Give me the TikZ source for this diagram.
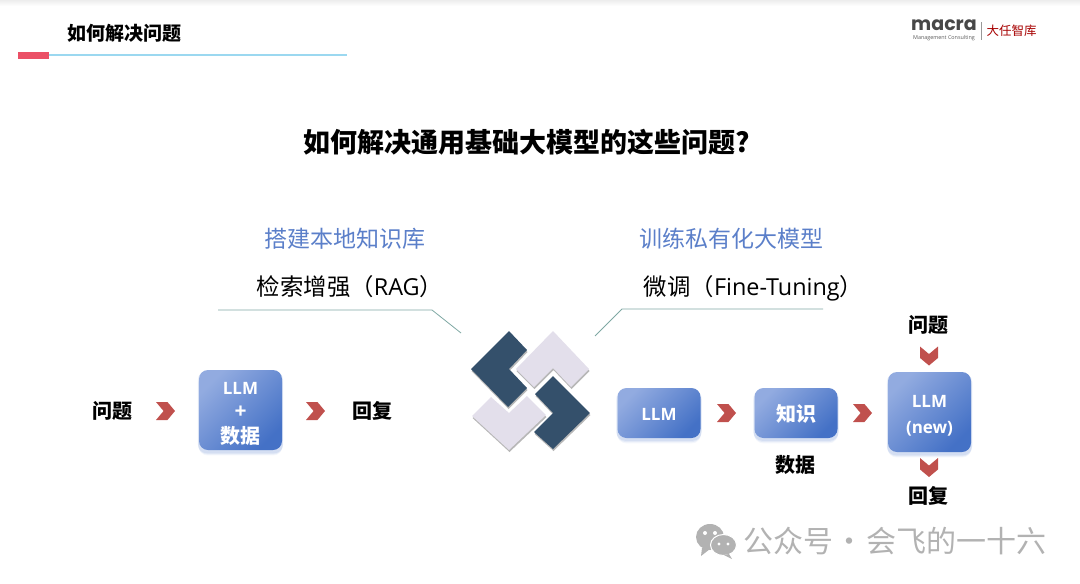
\documentclass[tikz,border=0pt]{standalone}
\usepackage{fontspec}
\setmainfont{Noto Sans CJK SC}
\newfontfamily\latn{Open Sans}
\newfontfamily\brandfont{Poppins}
\usetikzlibrary{shapes.symbols,positioning,shadows}
\definecolor{boxlight}{HTML}{92ABE0}
\definecolor{boxdark}{HTML}{4471C6}
\definecolor{chevred}{HTML}{C0504D}
\definecolor{headblue}{HTML}{5B7FC9}
\definecolor{slateblue}{HTML}{34506B}
\definecolor{palelilac}{HTML}{E3DFEB}
\definecolor{leadgreen}{HTML}{7FA8A3}
\definecolor{markgray}{HTML}{B2B2B2}
\definecolor{rulecyan}{HTML}{9BD8F0}
\definecolor{tabred}{HTML}{EB5066}
\newcommand{\boxlatin}{\fontsize{17}{24.5}\selectfont\latn}
\begin{document}
\begin{tikzpicture}[x=1pt,y=-1pt,
  llmbox/.style={rounded corners=9pt, minimum width=83pt, inner sep=0pt, align=center, text=white, font=\fontsize{20}{24.5}\selectfont\bfseries, top color=boxlight, bottom color=boxdark, shading angle=45,
    drop shadow={shadow xshift=0pt, shadow yshift=-5pt, shadow scale=1.01, fill=boxdark, opacity=.06},
    drop shadow={shadow xshift=0pt, shadow yshift=-3.5pt, shadow scale=1.02, fill=boxdark, opacity=.09},
    drop shadow={shadow xshift=0pt, shadow yshift=-2pt, shadow scale=1.03, fill=boxdark, opacity=.10}},
  plainword/.style={inner sep=0pt, font=\fontsize{20}{24}\selectfont\bfseries},
  chevright/.style={signal, signal to=east, signal from=west, signal pointer angle=100, fill=chevred, minimum width=19pt, minimum height=18pt, inner sep=0pt},
  chevdown/.style={chevright, rotate=-90},
  leadline/.style={draw=leadgreen, line width=0.8pt},
  slatepiece/.style={fill=slateblue, draw=none, drop shadow={shadow xshift=0.5pt, shadow yshift=-2pt, fill=gray!70, opacity=.8}},
  lilacpiece/.style={fill=palelilac, draw=none, drop shadow={shadow xshift=0.5pt, shadow yshift=-2pt, fill=gray!70, opacity=.8}},
  headtext/.style={inner sep=0pt, text=headblue, font=\fontsize{23}{26}\selectfont},
  subtext/.style={inner sep=0pt, font=\fontsize{23.4}{26}\selectfont}]
\useasboundingbox (0,0) rectangle (1080,584);
\shade[top color=gray!14, bottom color=white] (0,0) rectangle (1080,6);

\node[inner sep=0pt, font=\fontsize{19}{22}\selectfont\bfseries] (pagetitle) at (124.5,33) {如何解决问题};
\draw[draw=rulecyan, line width=1.2pt] (49,55) -- (347,55);
\fill[tabred] (18,52) rectangle (49,59);

\node[inner sep=0pt, font=\fontsize{19}{20}\selectfont\bfseries\brandfont, text=black!72] (macra) at (944,25.5) {macra};
\node[inner sep=0pt, font=\fontsize{5.4}{6}\selectfont\latn, text=black!65] (consult) at (944,38.5) {Management Consulting};
\draw[gray!80, line width=0.5pt] (981,22) -- (981,40);
\node[inner sep=0pt, font=\fontsize{12.5}{14}\selectfont, text=red!65!black] (brand) at (1011.5,31) {大任智库};

\node[inner sep=0pt, font=\fontsize{27}{30}\selectfont\bfseries] (maintitle) at (527,142) {如何解决通用基础大模型的这些问题?};

\node[headtext] (ragtitle) at (345,239) {搭建本地知识库};
\node[headtext] (tunetitle) at (731,239) {训练私有化大模型};
\node[subtext] (ragsub) at (350,287) {检索增强（{\latn RAG}）};
\node[subtext] (tunesub) at (753.5,288) {微调（{\latn Fine-Tuning}）};
\draw[leadline] (218,310) -- (432,310) -- (461,333);
\draw[leadline] (823,309) -- (622,309) -- (595,336);

\path[slatepiece] (509,331) -- (527,350) -- (509,369) -- (527,388) -- (508,407) -- (471,369) -- cycle;
\path[lilacpiece] (553,331) -- (589,369) -- (571,387) -- (553,368) -- (534,387) -- (516,369) -- cycle;
\path[lilacpiece] (472,416) -- (491,397) -- (509,413) -- (527,396) -- (546,415) -- (509,450) -- cycle;
\path[slatepiece] (553,376) -- (590,413) -- (553,449) -- (534,432) -- (553,413) -- (535,394) -- cycle;

\node[plainword] (askleft) at (112,411) {问题};
\node[chevright] (chevA) at (165.5,411) {};
\node[llmbox, minimum height=80pt] (llmdata) at (240.5,410) {\rule{0pt}{20pt}{\boxlatin LLM}\\{\fontsize{21}{24.5}\selectfont\latn +}\\数据};
\node[chevright] (chevB) at (315.5,411) {};
\node[plainword] (replyleft) at (372,411) {回复};

\node[llmbox, minimum height=50pt] (llm) at (659,413) {\rule{0pt}{15pt}\boxlatin LLM};
\node[chevright] (chevC) at (726.5,413) {};
\node[llmbox, minimum height=50pt] (know) at (796,413) {\rule{0pt}{19pt}知识};
\node[chevright] (chevD) at (862.5,413) {};
\node[llmbox, minimum height=80pt] (llmnew) at (929.5,412) {\rule{0pt}{20pt}\boxlatin LLM\\[1.5pt]\boxlatin (new)};
\node[plainword, below=17pt of know, xshift=-1pt] (data) {数据};
\node[chevdown] (chevE) at (929,356) {};
\node[plainword] (askright) at (928,325) {问题};
\node[chevdown] (chevF) at (929,467.5) {};
\node[plainword] (replyright) at (928,496) {回复};

\fill[markgray] (710,537) ellipse [x radius=14, y radius=13];
\fill[markgray] (702,548) -- (701,556) -- (710,549) -- cycle;
\fill[markgray, draw=white, line width=1pt] (723.5,545) ellipse [x radius=13, y radius=10.5];
\fill[markgray] (729,554) -- (732,559) -- (724,555) -- cycle;
\fill[white] (705,533) circle (2) (715,533) circle (2) (719,544) circle (1.7) (728,544) circle (1.7);
\node[inner sep=0pt, text=markgray, font=\fontsize{30}{32}\selectfont] (mark) at (895,541) {公众号\hspace{2pt}·\hspace{2pt}会飞的一十六};
\end{tikzpicture}
\end{document}
